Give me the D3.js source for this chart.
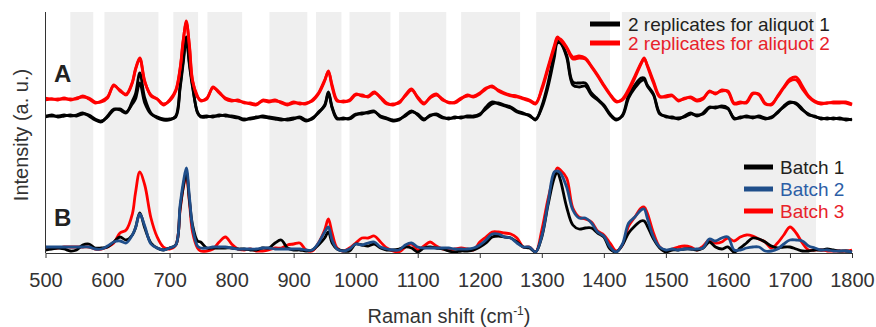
<!DOCTYPE html>
<html>
<head>
<meta charset="utf-8">
<script src="https://cdn.jsdelivr.net/npm/d3@7/dist/d3.min.js"></script>
<style>
  body { margin: 0; background: #fff; }
  svg text { font-family: "Liberation Sans", Arial, Helvetica, sans-serif; }
</style>
</head>
<body>
<svg width="876" height="327"></svg>
<script>
// Raman shift grid (cm-1), shared by every spectrum
var shift = [
  500, 510, 520, 530, 540, 550, 560, 570, 580, 590, 600,
  610, 620, 630, 640, 645,
  652, 660, 670, 680, 690, 700, 710, 717, 722, 727, 732, 737, 745, 750,
  760, 770, 780, 790, 800, 810, 820, 830, 840, 850, 860, 870, 880, 890, 900, 910, 920, 930, 940, 950, 956, 962, 970, 980, 990,
  1000, 1010, 1020, 1030, 1040, 1050, 1060, 1070, 1080, 1090, 1100, 1110, 1120, 1130, 1140, 1150, 1160, 1170, 1180, 1190,
  1200, 1210, 1220, 1230, 1240, 1250, 1260, 1270, 1280, 1290,
  1300, 1310, 1320, 1325, 1330, 1340, 1350, 1360, 1370, 1380, 1390, 1400, 1410, 1420, 1430, 1440, 1450, 1460, 1465, 1470, 1480,
  1490, 1500, 1510, 1520, 1530, 1540, 1550, 1560, 1570, 1580, 1590, 1600, 1610, 1620, 1630, 1640, 1650, 1660, 1670, 1680,
  1690, 1700, 1710, 1720, 1730, 1740, 1750, 1760, 1770, 1780, 1790, 1800
];

// A: two replicates for each aliquot (offset intensities, a. u.)
var aliquot1Rep1 = [
  137, 137, 137, 138, 137, 138, 140, 137, 133, 131, 137,
  144, 143, 140, 152, 159,
  180, 155, 140, 135, 133, 133, 137, 167, 193, 216, 190, 168, 140, 136,
  136, 137, 137, 138, 136, 135, 133, 135, 136, 136, 135, 134, 133, 134, 135, 135, 132, 135, 140, 148, 161, 146, 135, 134, 135,
  139, 139, 141, 142, 136, 134, 132, 133, 138, 142, 138, 133, 138, 138, 135, 135, 135, 136, 136, 136,
  138, 146, 151, 149, 147, 145, 141, 139, 138, 133,
  147, 170, 200, 214, 211, 196, 168, 166, 167, 158, 153, 147, 138, 133, 138, 158, 168, 175, 175, 168, 159,
  140, 136, 136, 134, 137, 140, 137, 140, 146, 145, 147, 145, 134, 136, 136, 136, 136, 134, 136, 140,
  147, 151, 149, 143, 139, 136, 135, 134, 135, 134, 134, 133
];
var aliquot1Rep2 = [
  136, 138, 136, 137, 138, 137, 139, 138, 134, 132, 136,
  143, 144, 141, 149, 154,
  170, 150, 139, 136, 134, 134, 136, 165, 190, 214, 188, 166, 141, 137,
  137, 136, 138, 137, 137, 136, 134, 134, 135, 137, 136, 135, 134, 133, 134, 136, 133, 134, 141, 147, 160, 145, 134, 135, 134,
  138, 140, 140, 141, 137, 135, 133, 134, 137, 141, 139, 134, 137, 139, 136, 134, 136, 135, 137, 137,
  139, 144, 149, 150, 148, 146, 142, 140, 137, 134,
  145, 166, 195, 210, 210, 198, 171, 170, 170, 160, 154, 148, 139, 134, 137, 155, 165, 172, 173, 167, 158,
  139, 137, 135, 135, 136, 139, 138, 139, 145, 146, 146, 144, 135, 135, 137, 135, 137, 135, 135, 141,
  146, 150, 150, 144, 138, 137, 134, 135, 134, 135, 133, 134
];
var aliquot2Rep1 = [
  155, 154, 154, 154, 154, 154, 157, 154, 150, 152, 156,
  167, 163, 158, 170, 183,
  194, 171, 158, 154, 148, 153, 163, 185, 213, 230, 208, 173, 156, 153,
  154, 166, 160, 155, 153, 152, 151, 149, 148, 153, 152, 153, 150, 148, 150, 150, 149, 153, 160, 173, 181, 168, 153, 151, 153,
  159, 157, 157, 161, 155, 149, 149, 150, 158, 164, 155, 149, 156, 159, 153, 151, 150, 154, 158, 156,
  159, 164, 167, 162, 159, 157, 156, 154, 152, 149,
  165, 186, 207, 216, 213, 205, 194, 195, 194, 186, 177, 167, 158, 151, 154, 164, 177, 190, 195, 187, 170,
  156, 157, 158, 152, 155, 155, 152, 154, 162, 159, 163, 161, 149, 150, 151, 160, 158, 149, 149, 156,
  165, 172, 173, 164, 156, 151, 149, 150, 150, 150, 150, 148
];
var aliquot2Rep2 = [
  153, 154, 153, 155, 153, 155, 156, 155, 151, 151, 155,
  168, 162, 159, 171, 184,
  195, 172, 157, 154, 149, 152, 162, 184, 212, 232, 206, 172, 157, 152,
  155, 165, 161, 154, 152, 153, 150, 150, 149, 152, 151, 152, 151, 149, 151, 149, 150, 152, 159, 172, 182, 166, 152, 152, 152,
  158, 158, 156, 160, 156, 150, 148, 151, 157, 163, 156, 150, 155, 158, 154, 150, 151, 155, 157, 157,
  160, 165, 166, 163, 160, 158, 157, 155, 153, 150,
  163, 184, 205, 214, 214, 206, 196, 197, 195, 187, 178, 168, 159, 152, 153, 162, 175, 189, 194, 188, 172,
  157, 156, 157, 153, 154, 156, 153, 155, 161, 160, 162, 162, 150, 151, 150, 159, 159, 150, 148, 157,
  166, 174, 176, 167, 157, 152, 150, 150, 151, 151, 151, 149
];

// B: one spectrum per batch
var batch1 = [
  3, 4, 5, 4, 2, 3, 8, 9, 5, 5, 6,
  11, 16, 13, 18, 25,
  40, 25, 10, 5, 3, 5, 8, 45, 66, 81, 53, 28, 12, 11,
  5, 5, 5, 5, 5, 4, 4, 3, 3, 5, 5, 10, 13, 5, 3, 3, 2, 3, 8, 15, 21, 10, 4, 2, 2,
  9, 8, 7, 9, 5, 3, 3, 4, 6, 5, 1, 5, 6, 5, 4, 2, 1, 2, 2, 3,
  6, 10, 16, 17, 16, 15, 11, 6, 5, 1,
  16, 48, 75, 81, 73, 46, 28, 24, 25, 25, 20, 16, 4, 1, 8, 20, 27, 32, 32, 27, 14,
  5, 1, 3, 3, 4, 4, 3, 5, 11, 6, 4, 6, 1, 5, 10, 15, 14, 11, 7, 5,
  6, 6, 4, 2, 2, 3, 3, 4, 3, 2, 2, 1
];
var batch2 = [
  6, 6, 6, 6, 6, 6, 6, 6, 4, 4, 7,
  11, 12, 10, 18, 25,
  39, 27, 9, 5, 3, 5, 8, 48, 70, 85, 56, 26, 7, 5,
  5, 6, 6, 6, 5, 4, 4, 4, 4, 5, 5, 4, 4, 4, 4, 4, 3, 3, 10, 21, 26, 13, 4, 2, 4,
  9, 8, 10, 11, 6, 4, 3, 3, 8, 10, 6, 5, 5, 5, 5, 5, 4, 4, 4, 5,
  8, 13, 19, 19, 16, 15, 10, 6, 6, 1,
  17, 50, 81, 82, 80, 66, 43, 35, 35, 30, 21, 17, 6, 1, 9, 30, 36, 43, 44, 35, 16,
  6, 3, 4, 3, 4, 4, 4, 5, 14, 12, 15, 16, 3, 3, 5, 6, 6, 2, 2, 4,
  9, 13, 13, 12, 7, 5, 3, 3, 2, 2, 2, 1
];
var batch3 = [
  6, 5, 5, 6, 6, 6, 6, 6, 4, 4, 6,
  10, 20, 23, 39, 60,
  81, 68, 35, 16, 6, 4, 8, 43, 65, 77, 51, 21, 5, 2,
  2, 4, 11, 16, 9, 4, 3, 4, 2, 2, 3, 5, 5, 8, 9, 10, 3, 2, 10, 23, 34, 20, 5, 2, 5,
  10, 15, 15, 17, 11, 5, 2, 1, 6, 9, 3, 7, 11, 7, 4, 3, 4, 5, 4, 3,
  11, 16, 21, 21, 20, 19, 15, 6, 6, 1,
  23, 54, 78, 85, 83, 75, 45, 36, 34, 31, 22, 18, 10, 2, 8, 27, 36, 45, 46, 40, 20,
  6, 2, 4, 6, 7, 6, 3, 7, 13, 10, 11, 15, 12, 16, 18, 17, 14, 11, 5, 10,
  18, 26, 20, 10, 3, 3, 3, 2, 2, 2, 2, 3
];

// shaded spectral windows (cm-1)
var bands = [[540, 577], [595, 682], [706, 746], [761, 817], [861, 922], [936, 977],
             [990, 1056], [1070, 1146], [1170, 1265], [1291, 1410], [1429, 1742]];

var xTicks = [500, 600, 700, 800, 900, 1000, 1100, 1200, 1300, 1400, 1500, 1600, 1700, 1800];

var svg = d3.select("svg"),
    plotTop = 12,
    plotBottom = 253,
    black = "#000000",
    red = "#ff0000",
    blue = "#1f4e8a";

var x = d3.scaleLinear().domain([500, 1800]).range([45.5, 852]);
var y = d3.scaleLinear().domain([0, 241]).range([plotBottom, plotTop]);

svg.append("g").selectAll("rect")
    .data(bands)
  .enter().append("rect")
    .attr("x", function(d) { return x(d[0]); })
    .attr("width", function(d) { return x(d[1]) - x(d[0]); })
    .attr("y", plotTop)
    .attr("height", plotBottom - plotTop)
    .attr("fill", "#efefef");

var line = d3.line()
    .x(function(d, i) { return x(shift[i]); })
    .y(function(d) { return y(d); })
    .curve(d3.curveCatmullRom.alpha(0.5));

var spectra = [
  {values: aliquot1Rep1, color: black},
  {values: aliquot1Rep2, color: black},
  {values: aliquot2Rep1, color: red},
  {values: aliquot2Rep2, color: red},
  {values: batch3, color: red},
  {values: batch1, color: black},
  {values: batch2, color: blue}
];

svg.append("g").selectAll("path")
    .data(spectra)
  .enter().append("path")
    .attr("fill", "none")
    .attr("stroke", function(d) { return d.color; })
    .attr("stroke-width", 2.8)
    .attr("stroke-linejoin", "round")
    .attr("d", function(d) { return line(d.values); });

// axes
svg.append("line")
    .attr("x1", 45.5).attr("x2", 45.5)
    .attr("y1", plotTop).attr("y2", plotBottom)
    .attr("stroke", "#333");

var xAxis = svg.append("g")
    .attr("transform", "translate(0," + plotBottom + ")")
    .call(d3.axisBottom(x).tickValues(xTicks).tickFormat(d3.format("d"))
      .tickSize(5).tickSizeOuter(0).tickPadding(15));
xAxis.select(".domain").attr("stroke", "#333");
xAxis.selectAll(".tick line").attr("stroke", "#333");
xAxis.selectAll("text")
    .attr("fill", "#333")
    .attr("font-size", 20)
    .style("font-family", "'Liberation Sans', Arial, sans-serif");

var xTitle = svg.append("text")
    .attr("x", 449)
    .attr("y", 323)
    .attr("text-anchor", "middle")
    .attr("font-size", 20)
    .attr("fill", "#333");
xTitle.append("tspan").text("Raman shift (cm");
xTitle.append("tspan").attr("font-size", 12).attr("dy", -8).text("-1");
xTitle.append("tspan").attr("dy", 8).text(")");

svg.append("text")
    .attr("transform", "translate(28,135) rotate(-90)")
    .attr("text-anchor", "middle")
    .attr("font-size", 20)
    .attr("fill", "#333")
    .text("Intensity (a. u.)");

// panel letters
svg.append("text").attr("x", 54).attr("y", 82)
    .attr("font-size", 24).attr("font-weight", "bold").attr("fill", "#222").text("A");
svg.append("text").attr("x", 54).attr("y", 226)
    .attr("font-size", 24).attr("font-weight", "bold").attr("fill", "#222").text("B");

// legends
var legendA = [
  {label: "2 replicates for aliquot 1", color: black, text: "#231f20", y: 24},
  {label: "2 replicates for aliquot 2", color: red, text: "#e8222a", y: 43}
];
var legendB = [
  {label: "Batch 1", color: black, text: "#231f20", y: 167},
  {label: "Batch 2", color: blue, text: "#2c5ea6", y: 189},
  {label: "Batch 3", color: red, text: "#e8222a", y: 211}
];

function legend(items, x0, x1, tx) {
  var g = svg.append("g").selectAll("g")
      .data(items)
    .enter().append("g");
  g.append("line")
      .attr("x1", x0).attr("x2", x1)
      .attr("y1", function(d) { return d.y; })
      .attr("y2", function(d) { return d.y; })
      .attr("stroke", function(d) { return d.color; })
      .attr("stroke-width", 5);
  g.append("text")
      .attr("x", tx)
      .attr("y", function(d) { return d.y; })
      .attr("dy", "0.35em")
      .attr("font-size", 19)
      .attr("fill", function(d) { return d.text; })
      .text(function(d) { return d.label; });
}
legend(legendA, 590, 620, 628);
legend(legendB, 744, 773, 780);
</script>
</body>
</html>
